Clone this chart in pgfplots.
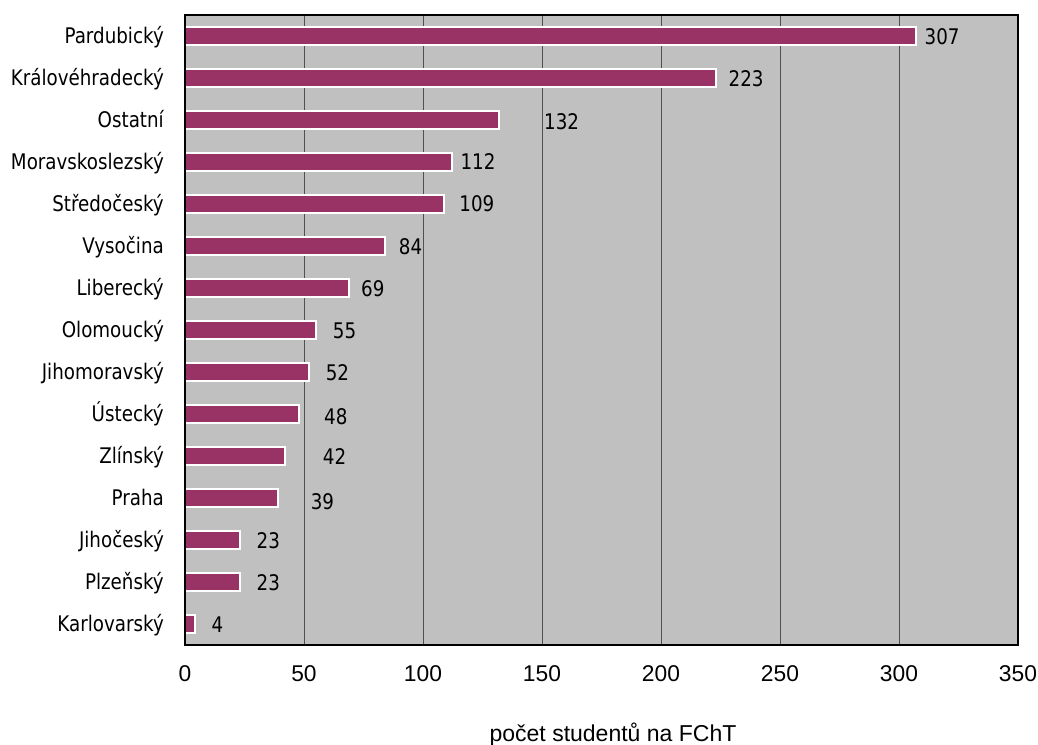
\documentclass[border=0pt]{standalone}
\usepackage{fontspec}
\setmainfont{Liberation Sans}
\newfontfamily\catfont[FakeStretch=0.85]{DejaVu Sans}
\usepackage{pgfplots}
\usepackage{pgfplotstable}
\pgfplotsset{compat=1.18}

\definecolor{barpurple}{HTML}{993366}
\definecolor{plotgrey}{HTML}{C0C0C0}
\definecolor{gridgrey}{HTML}{505050}

% students by region: y slot, count, label offsets (x, y)
\pgfplotstableread{
y  v   dx  dy
14 307 8   -1
13 223 12  -1
12 132 44  -2
11 112 8   0
10 109 14  0
9  84  13  -1
8  69  11  -1
7  55  16  -1
6  52  16  -1
5  48  24  -3
4  42  37  -1
3  39  32  -4
2  23  16  -1
1  23  16  -1
0  4   16  -1
}\studdata

\begin{document}
\begin{tikzpicture}
\path[use as bounding box] (0,0) rectangle (1038pt,744pt);
\begin{axis}[
  at={(185pt,99pt)}, anchor=south west,
  scale only axis, width=833pt, height=630pt,
  xmin=0, xmax=350, ymin=-0.5, ymax=14.5,
  axis background/.style={fill=plotgrey},
  xtick={0,50,...,350},
  xmajorgrids,
  major grid style={gridgrey, line width=1pt},
  ytick={0,...,14},
  yticklabels={Karlovarský, Plzeňský\ , Jihočeský, Praha, Zlínský, Ústecký, Jihomoravský, Olomoucký, Liberecký, Vysočina, Středočeský, Moravskoslezský, Ostatní, Královéhradecký, Pardubický},
  major tick length=0pt,
  axis line style={black, line width=2.2pt},
  xticklabel style={font=\fontsize{22.8}{26}\selectfont, inner sep=0pt, anchor=north, yshift=-20pt},
  /pgf/number format/assume math mode=true,
  yticklabel style={font=\catfont\fontsize{21.5}{25}\selectfont, inner sep=0pt, anchor=east, xshift=-21pt, text height=15.7pt, text depth=0pt},
  xlabel={počet studentů na FChT},
  xlabel style={font=\fontsize{23}{27}\selectfont, inner sep=0pt, at={(axis description cs:0.5,0)}, anchor=base, yshift=-96pt, xshift=11.5pt},
]
\addplot[xbar, bar width=18pt, fill=barpurple, draw=white, line width=2pt,
  nodes near coords, point meta=explicit symbolic,
  nodes near coords align=horizontal,
  visualization depends on={\thisrow{dx} \as \dx},
  visualization depends on={\thisrow{dy} \as \dy},
  every node near coord/.append style={anchor=west, inner sep=0pt, xshift=\dx pt, yshift=\dy pt,
    font=\catfont\fontsize{21.5}{25}\selectfont, text=black, text height=15.7pt, text depth=0pt}]
  table[x=v, y=y, meta=v] {\studdata};
\draw[black, line width=2.2pt] (rel axis cs:0,0) -- (rel axis cs:0,1);
\end{axis}
\end{tikzpicture}
\end{document}
